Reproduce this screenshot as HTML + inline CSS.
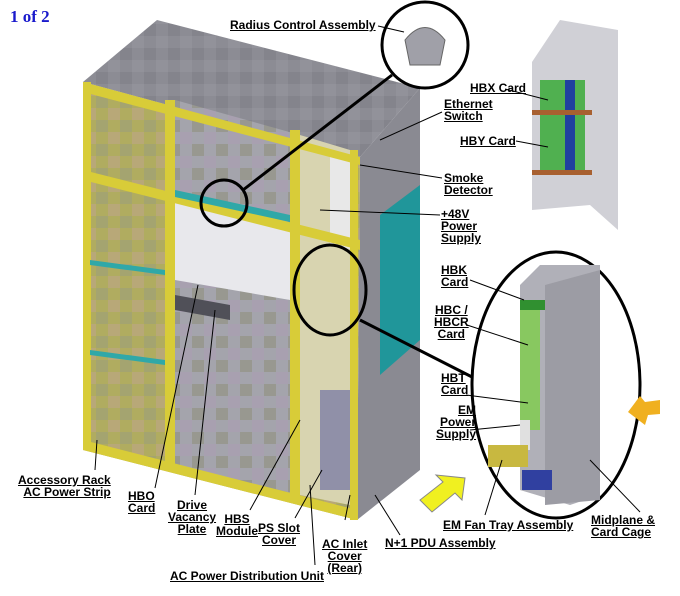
<!DOCTYPE html>
<html><head><style>
html,body{margin:0;padding:0;background:#fff}
#c{position:relative;width:680px;height:596px;overflow:hidden;font-family:"Liberation Sans",Arial,sans-serif}
.l{position:absolute;font-weight:bold;font-size:12px;line-height:12px;text-decoration:underline;color:#000;white-space:nowrap}
.r{text-align:right}.c{text-align:center}
</style></head><body><div id="c">
<svg width="680" height="596" style="position:absolute;left:0;top:0">
<defs>
<pattern id="ck" width="24" height="24" patternUnits="userSpaceOnUse"><rect width="24" height="24" fill="#a4a4ac"/><rect width="12" height="12" fill="#989890"/><rect x="12" y="12" width="12" height="12" fill="#a8a0b0"/></pattern>
<pattern id="ol" width="24" height="24" patternUnits="userSpaceOnUse"><rect width="24" height="24" fill="#b0ac60"/><rect width="12" height="12" fill="#a4a470"/><rect x="12" y="12" width="12" height="12" fill="#b8a878"/></pattern>
<pattern id="tp" width="24" height="24" patternUnits="userSpaceOnUse"><rect width="24" height="24" fill="#8c8c94"/><rect width="12" height="12" fill="#84848c"/><rect x="12" y="12" width="12" height="12" fill="#92929a"/></pattern>
</defs>
<text x="10" y="22" font-family="Liberation Serif,serif" font-weight="bold" font-size="17" fill="#1a1acc">1 of 2</text>
<polygon points="83,82 157,20 420,88 360,157" fill="url(#tp)"/>
<polygon points="360,157 420,88 420,470 357,520" fill="#8a8a92"/>
<polygon points="380,215 420,185 420,340 380,375" fill="#20969a"/>
<polygon points="83,82 360,157 357,520 83,450" fill="url(#ol)"/>
<polygon points="175,100 300,135 300,495 175,465" fill="url(#ck)"/>
<polygon points="175,200 290,230 290,300 175,280" fill="#e8e8ec"/>
<polygon points="175,295 230,305 230,320 175,310" fill="#505058"/>
<polygon points="300,135 350,150 350,505 300,495" fill="#d8d4b0"/>
<polygon points="330,155 355,160 355,250 330,245" fill="#e8e8e8"/>
<rect x="320" y="390" width="30" height="100" fill="#9090a8"/>
<g fill="#d8cc38">
<polygon points="83,82 360,157 360,165 83,92"/>
<polygon points="83,170 360,240 360,250 83,180"/>
<polygon points="83,440 357,510 357,520 83,450"/>
<rect x="83" y="82" width="8" height="368"/>
<rect x="165" y="100" width="10" height="370"/>
<rect x="290" y="130" width="10" height="370"/>
<rect x="350" y="150" width="8" height="370"/>
</g>
<g fill="#30a8a8"><polygon points="90,260 165,270 165,275 90,265"/><polygon points="90,350 165,360 165,365 90,355"/><polygon points="175,190 290,215 290,222 175,197"/></g>
<g stroke="#000" stroke-width="3" fill="none">
<circle cx="224" cy="203" r="23"/>
<ellipse cx="330" cy="290" rx="36" ry="45"/>
<line x1="243" y1="190" x2="392" y2="75"/>
<line x1="360" y1="320" x2="474" y2="378"/>
</g>
<circle cx="425" cy="45" r="43" fill="#fff" stroke="#000" stroke-width="3"/>
<path d="M405,40 q20,-25 40,0 l-5,25 h-30 z" fill="#a0a0a8" stroke="#666"/>
<polygon points="532,62 560,20 618,30 618,230 590,205 532,210" fill="#d0d0d6"/>
<rect x="540" y="80" width="45" height="95" fill="#50b050"/>
<rect x="565" y="80" width="10" height="95" fill="#2040a0"/>
<rect x="532" y="110" width="60" height="5" fill="#a86030"/><rect x="532" y="170" width="60" height="5" fill="#a86030"/>
<ellipse cx="556" cy="385" rx="84" ry="133" fill="#fff" stroke="#000" stroke-width="3"/>
<polygon points="520,285 540,265 600,265 600,495 570,505 520,490" fill="#b0b0b8"/>
<polygon points="545,285 600,270 600,500 545,505" fill="#9c9ca4"/>
<rect x="520" y="300" width="25" height="10" fill="#309030"/>
<rect x="520" y="310" width="20" height="120" fill="#88c860"/>
<rect x="520" y="420" width="10" height="30" fill="#e0e0e0"/>
<rect x="488" y="445" width="40" height="22" fill="#c8b840"/>
<rect x="522" y="470" width="30" height="20" fill="#3040a0"/>
<polygon points="660,400 645,402 640,396 628,412 645,425 648,415 660,414" fill="#f0b020"/>
<polygon points="465,478 462,500 455,493 432,512 420,500 443,482 436,475" fill="#f0f020" stroke="#888"/>
<g stroke="#000" stroke-width="1">
<line x1="378" y1="26" x2="404" y2="32"/>
<line x1="442" y1="112" x2="380" y2="140"/>
<line x1="442" y1="178" x2="360" y2="165"/>
<line x1="440" y1="215" x2="320" y2="210"/>
<line x1="505" y1="89" x2="548" y2="100"/>
<line x1="516" y1="141" x2="548" y2="147"/>
<line x1="470" y1="280" x2="524" y2="300"/>
<line x1="467" y1="325" x2="528" y2="345"/>
<line x1="466" y1="395" x2="528" y2="403"/>
<line x1="470" y1="430" x2="520" y2="425"/>
<line x1="485" y1="515" x2="502" y2="460"/>
<line x1="640" y1="512" x2="590" y2="460"/>
<line x1="95" y1="470" x2="97" y2="440"/>
<line x1="155" y1="488" x2="198" y2="285"/>
<line x1="195" y1="495" x2="215" y2="310"/>
<line x1="250" y1="510" x2="300" y2="420"/>
<line x1="295" y1="518" x2="322" y2="470"/>
<line x1="345" y1="520" x2="350" y2="495"/>
<line x1="315" y1="565" x2="310" y2="485"/>
<line x1="400" y1="535" x2="375" y2="495"/>
</g>
</svg>
<div class="l" style="left:230px;top:19px">Radius Control Assembly</div>
<div class="l" style="left:470px;top:82px">HBX Card</div>
<div class="l" style="left:444px;top:98px">Ethernet<br>Switch</div>
<div class="l" style="left:460px;top:135px">HBY Card</div>
<div class="l" style="left:444px;top:172px">Smoke<br>Detector</div>
<div class="l" style="left:441px;top:208px">+48V<br>Power<br>Supply</div>
<div class="l" style="left:441px;top:264px">HBK<br>Card</div>
<div class="l c" style="left:434px;top:304px">HBC /<br>HBCR<br>Card</div>
<div class="l" style="left:441px;top:372px">HBT<br>Card</div>
<div class="l r" style="left:436px;top:404px">EM<br>Power<br>Supply</div>
<div class="l" style="left:443px;top:519px">EM Fan Tray Assembly</div>
<div class="l" style="left:591px;top:514px">Midplane &amp;<br>Card Cage</div>
<div class="l r" style="left:18px;top:474px">Accessory Rack<br>AC Power Strip</div>
<div class="l" style="left:128px;top:490px">HBO<br>Card</div>
<div class="l c" style="left:168px;top:499px">Drive<br>Vacancy<br>Plate</div>
<div class="l c" style="left:216px;top:513px">HBS<br>Module</div>
<div class="l c" style="left:258px;top:522px">PS Slot<br>Cover</div>
<div class="l c" style="left:322px;top:538px">AC Inlet<br>Cover<br>(Rear)</div>
<div class="l" style="left:385px;top:537px">N+1 PDU Assembly</div>
<div class="l" style="left:170px;top:570px">AC Power Distribution Unit</div>
</div></body></html>
